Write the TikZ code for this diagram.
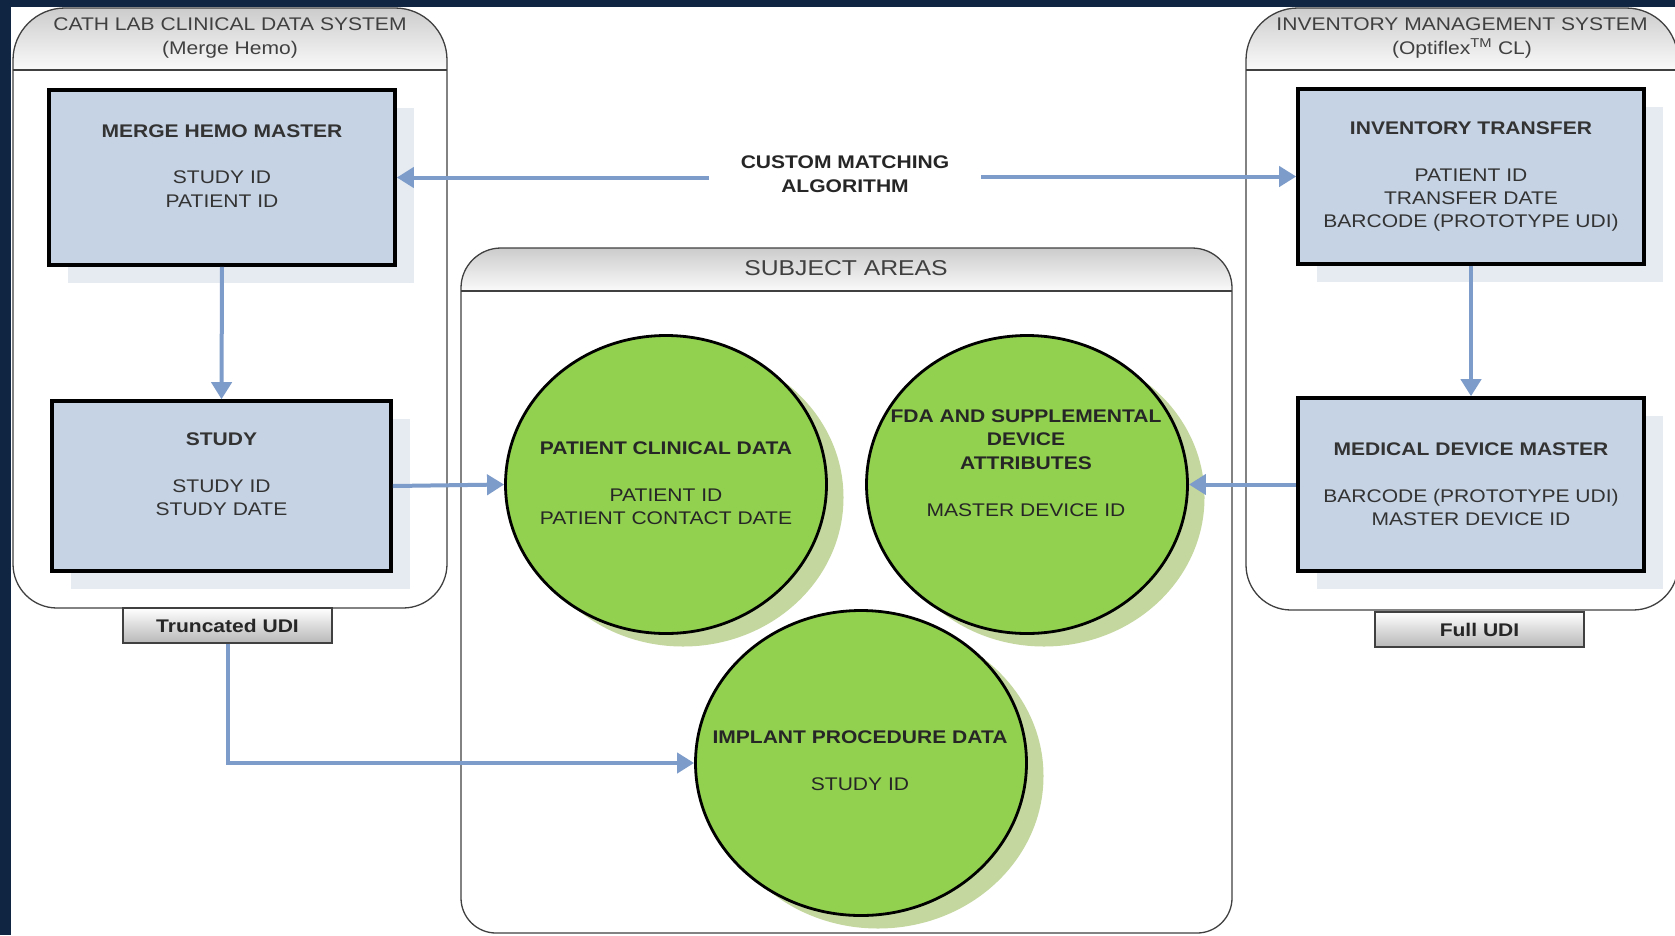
\documentclass[tikz,border=0pt]{standalone}
\usepackage{fontspec}
\setmainfont{Liberation Sans}[FakeStretch=1.15]
\usetikzlibrary{arrows.meta,shapes.geometric,shadows}
\definecolor{navy}{HTML}{102542}
\definecolor{boxfill}{HTML}{C6D3E4}
\definecolor{boxshadow}{HTML}{E6EBF2}
\definecolor{greenfill}{HTML}{92D050}
\definecolor{greenshadow}{HTML}{C4D79E}
\definecolor{arrowc}{HTML}{7E9CC9}
\definecolor{linegray}{HTML}{404040}
\newcommand\myfs{\fontsize{18.3}{23.4}\selectfont}
% container: x1 x2 ytop yheader ybottom rtop rbottom
\newcommand\drawcontainer[7]{%
  \shade[top color=black!20, bottom color=black!2]
    (#1,#4) -- (#1,#3+#6) arc[start angle=180,end angle=270,radius=#6]
    -- (#2-#6,#3) arc[start angle=270,end angle=360,radius=#6] -- (#2,#4) -- cycle;
  \draw[cont]
    (#1,#4) -- (#1,#3+#6) arc[start angle=180,end angle=270,radius=#6]
    -- (#2-#6,#3) arc[start angle=270,end angle=360,radius=#6]
    -- (#2,#5-#7) arc[start angle=0,end angle=90,radius=#7]
    -- (#1+#7,#5) arc[start angle=90,end angle=180,radius=#7] -- cycle;
  \draw[cont] (#1,#4) -- (#2,#4);
}
\begin{document}
\begin{tikzpicture}[x=1pt,y=-1pt,
  cont/.style={draw=linegray, line width=1.3pt},
  box/.style={draw=black, line width=3.6pt, fill=boxfill, align=center,
    font=\myfs, text=black!80, inner sep=0pt,
    general shadow={fill=boxshadow, shadow xshift=19pt, shadow yshift=-18pt}},
  oval/.style={ellipse, draw=black, line width=2.8pt, fill=greenfill,
    general shadow={fill=greenshadow, shadow xshift=17pt, shadow yshift=-13pt}},
  otext/.style={align=center, font=\myfs, text=black!85},
  udi/.style={draw=linegray, line width=1.2pt, top color=white, bottom color=black!28,
    minimum width=209pt, minimum height=35pt, font=\myfs\bfseries, text=black!85, inner sep=0pt},
  conn/.style={draw=arrowc, line width=4pt, -{Triangle[length=17pt,width=20pt]}},
  head/.style={align=center, font=\myfs, text=linegray},
]
\useasboundingbox (0,0) rectangle (1675,935);
\clip (0,0) rectangle (1675,935);
\fill[navy] (0,0) rectangle (1675,935);
\fill[white] (11,7) rectangle (1675,935);

\drawcontainer{13}{447}{8}{70}{608}{52}{44}
\drawcontainer{1246}{1678}{8}{70}{610}{52}{45}
\drawcontainer{461}{1232}{248}{291}{933}{40}{35}

\node[head] (h1) at (230,38) {CATH LAB CLINICAL DATA SYSTEM\\(Merge Hemo)};
\node[head] (h2) at (1462,38) {INVENTORY MANAGEMENT SYSTEM\\(Optiflex\textsuperscript{TM} CL)};
\node[head, font=\fontsize{21.5}{26}\selectfont] (h3) at (846,268) {SUBJECT AREAS};

\node[box, minimum width=346pt, minimum height=175pt] (mhm) at (222,177.5)
  {\textbf{MERGE HEMO MASTER}\\[23.4pt]STUDY ID\\PATIENT ID\\\mbox{}};
\node[box, minimum width=339pt, minimum height=170pt] (study) at (221.5,486)
  {\textbf{STUDY}\\[23.4pt]STUDY ID\\STUDY DATE\\\mbox{}};
\node[box, minimum width=346pt, minimum height=175pt] (inv) at (1471,176.5)
  {\textbf{INVENTORY TRANSFER}\\[23.4pt]PATIENT ID\\TRANSFER DATE\\BARCODE (PROTOTYPE UDI)};
\node[box, minimum width=346pt, minimum height=173pt] (mdm) at (1471,484.5)
  {\textbf{MEDICAL DEVICE MASTER}\\[23.4pt]BARCODE (PROTOTYPE UDI)\\MASTER DEVICE ID};

\node[oval, minimum width=321pt, minimum height=298pt] (pcd) at (666,484.5) {};
\node[otext] (pcdt) at (666,483)
  {\textbf{PATIENT CLINICAL DATA}\\[23.4pt]PATIENT ID\\PATIENT CONTACT DATE};
\node[oval, minimum width=321pt, minimum height=298pt] (fda) at (1027,484.5) {};
\node[otext] (fdat) at (1026,463)
  {\textbf{FDA AND SUPPLEMENTAL}\\\textbf{DEVICE}\\\textbf{ATTRIBUTES}\\[23.4pt]MASTER DEVICE ID};
\node[oval, minimum width=331pt, minimum height=305pt] (imp) at (861,763) {};
\node[otext] (impt) at (860,760.5)
  {\textbf{IMPLANT PROCEDURE DATA}\\[23.4pt]STUDY ID};

\node[font=\myfs\bfseries, align=center, text=black!85, inner xsep=32pt, inner ysep=2pt]
  (algo) at (845,174) {CUSTOM MATCHING\\ALGORITHM};

\node[udi] (tru) at (227.5,625.5) {Truncated UDI};
\node[udi] (full) at (1479.5,629.5) {Full UDI};

\draw[conn] (algo.west |- mhm.east) -- (mhm.east);
\draw[conn] (algo.east |- inv.west) -- (inv.west);
\draw[conn] (mhm.south) -- (study.north);
\draw[conn] (inv.south) -- (mdm.north);
\draw[conn] (study.east) -- (pcd.west);
\draw[conn] (mdm.west) -- (fda.east);
\draw[conn] (tru.south) |- (imp.west);
\end{tikzpicture}
\end{document}
